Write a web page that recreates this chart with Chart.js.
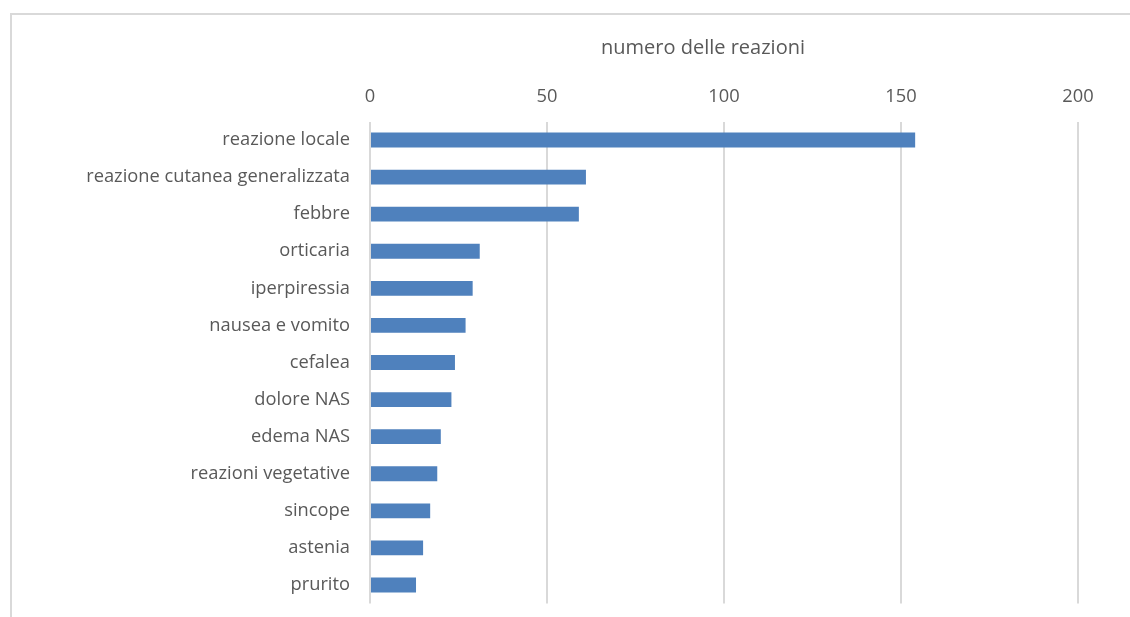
<!DOCTYPE html>
<html>
<head>
<meta charset="utf-8">
<script src="https://cdn.jsdelivr.net/npm/chart.js@4.4.0/dist/chart.umd.min.js"></script>
<style>
  html, body { margin: 0; padding: 0; background: #ffffff; overflow: hidden; }
  #wrap { position: absolute; left: 0; top: 0; width: 1130px; height: 617px; }
  #frame { position: absolute; left: 10px; top: 13px; width: 1200px; height: 700px;
           border: 2px solid #d9d9d9; box-sizing: border-box; pointer-events: none; }
</style>
</head>
<body>
<div id="wrap"><canvas id="c" width="1130" height="617"></canvas></div>
<div id="frame"></div>
<script>
const categories = [
  "reazione locale",
  "reazione cutanea generalizzata",
  "febbre",
  "orticaria",
  "iperpiressia",
  "nausea e vomito",
  "cefalea",
  "dolore NAS",
  "edema NAS",
  "reazioni vegetative",
  "sincope",
  "astenia",
  "prurito"
];
const reactionCounts = [154, 61, 59, 31, 29, 27, 24, 23, 20, 19, 17, 15, 13];
const axisTitle = "numero delle reazioni";
const axisMin = 0;
const axisMax = 200;
const axisStep = 50;

const FONT = "'Open Sans', sans-serif";
const TEXT = "#595959";
const FS = 18.3;

// keep the title centred over the whole figure, not only the plot area
const titleShift = {
  id: 'titleShift',
  afterLayout(chart) {
    const t = chart.titleBlock;
    if (t) { t.left = 328; t.right = 1078; }
  }
};

new Chart(document.getElementById('c'), {
  type: 'bar',
  data: {
    labels: categories,
    datasets: [{
      data: reactionCounts,
      backgroundColor: '#4f81bd',
      borderWidth: 0,
      barPercentage: 0.4,
      categoryPercentage: 1.0
    }]
  },
  plugins: [titleShift],
  options: {
    indexAxis: 'y',
    responsive: false,
    animation: false,
    devicePixelRatio: 1,
    layout: { padding: { left: 0, right: 52, top: 0, bottom: 13.5 } },
    plugins: {
      legend: { display: false },
      tooltip: { enabled: false },
      title: {
        display: true,
        text: axisTitle,
        color: TEXT,
        font: { family: FONT, size: 20, weight: 'normal', lineHeight: 1.2 },
        padding: { top: 36, bottom: 8.5 }
      }
    },
    scales: {
      x: {
        position: 'top',
        min: axisMin,
        max: axisMax,
        ticks: {
          stepSize: axisStep,
          color: TEXT,
          font: { family: FONT, size: FS },
          padding: 14
        },
        grid: { color: '#d9d9d9', lineWidth: 2, drawTicks: false },
        border: { display: false },
        afterFit: (s) => { s.height = 53; }
      },
      y: {
        ticks: {
          color: TEXT,
          font: { family: FONT, size: FS },
          padding: 20,
          autoSkip: false
        },
        grid: { display: false, drawTicks: false },
        border: { display: false },
        afterFit: (s) => { s.width = 370; s.paddingTop = 0; s.paddingBottom = 0; }
      }
    }
  }
});
</script>
</body>
</html>
